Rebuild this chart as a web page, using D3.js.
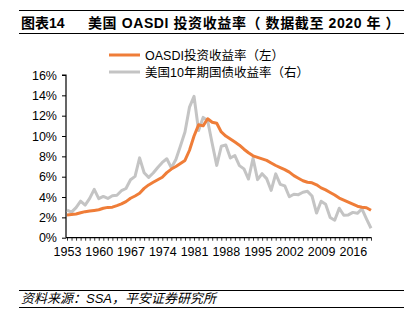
<!DOCTYPE html>
<html>
<head>
<meta charset="utf-8">
<script src="https://cdn.jsdelivr.net/npm/d3@7/dist/d3.min.js"></script>
<style>
  html, body { margin: 0; padding: 0; background: #fff; }
  svg { display: block; }
  text { font-family: "Liberation Sans", Arial, "Noto Sans CJK SC", sans-serif; fill: #000; }
</style>
</head>
<body>
<svg id="chart" width="412" height="326"></svg>
<script>
// Years covered by the series
const years = d3.range(1953, 2021);

// OASDI trust fund effective yield (%), left axis
const oasdiRate = [
  2.24, 2.28, 2.33, 2.45, 2.56, 2.62, 2.68, 2.75, 2.90, 2.98,
  3.00, 3.15, 3.32, 3.55, 3.88, 4.10, 4.37, 4.85, 5.19, 5.45,
  5.70, 5.95, 6.40, 6.75, 7.00, 7.30, 7.60, 8.60, 10.00, 11.10,
  11.00, 11.70, 11.35, 11.25, 10.40, 10.00, 9.70, 9.40, 9.10, 8.70,
  8.35, 8.05, 7.90, 7.75, 7.60, 7.35, 7.10, 6.90, 6.70, 6.45,
  6.10, 5.85, 5.60, 5.45, 5.40, 5.20, 4.90, 4.70, 4.45, 4.20,
  3.90, 3.70, 3.50, 3.30, 3.10, 3.00, 2.95, 2.70
];

// US 10-year Treasury yield, year end (%), right axis
const treasury10y = [
  2.70, 2.51, 2.96, 3.59, 3.21, 3.86, 4.75, 3.84, 4.06, 3.86,
  4.13, 4.18, 4.62, 4.84, 5.70, 6.03, 7.85, 6.39, 5.93, 6.36,
  6.90, 7.40, 7.76, 6.87, 7.69, 9.01, 10.39, 12.84, 13.90, 10.54,
  11.83, 11.50, 9.26, 7.11, 8.99, 9.11, 7.84, 8.08, 7.09, 6.77,
  5.77, 7.81, 5.71, 6.30, 5.81, 4.65, 6.28, 5.24, 5.09, 4.03,
  4.27, 4.23, 4.47, 4.56, 4.10, 2.42, 3.59, 3.29, 1.98, 1.72,
  2.90, 2.21, 2.24, 2.49, 2.40, 2.83, 1.86, 0.93
];

const yTicks = [0, 2, 4, 6, 8, 10, 12, 14, 16];
const xLabels = [1953, 1960, 1967, 1974, 1981, 1988, 1995, 2002, 2009, 2016];

const seriesNames = ["OASDI投资收益率（左）", "美国10年期国债收益率（右）"];
const seriesColors = ["#EF7D38", "#C4C4C4"];

const svg = d3.select("#chart");

// Title block with rules above and below
svg.append("line").attr("x1", 19).attr("x2", 404).attr("y1", 10.5).attr("y2", 10.5)
  .attr("stroke", "#000").attr("stroke-width", 1.2);
svg.append("line").attr("x1", 19).attr("x2", 404).attr("y1", 33.5).attr("y2", 33.5)
  .attr("stroke", "#000").attr("stroke-width", 1.2);
svg.append("text").attr("x", 21).attr("y", 28)
  .attr("font-size", 14).attr("font-weight", "bold")
  .text("图表14");
svg.append("text").attr("x", 88).attr("y", 28)
  .attr("font-size", 14).attr("font-weight", "bold")
  .attr("letter-spacing", 0.6)
  .text("美国 OASDI 投资收益率（ 数据截至 2020 年 ）");

// Scales
const x = d3.scaleLinear().domain([1953, 2020]).range([67, 371]);
const y = d3.scaleLinear().domain([0, 16]).range([237.7, 75]);

// Y axis
const yAxis = d3.axisLeft(y)
  .tickValues(yTicks)
  .tickSize(4)
  .tickFormat(d => d + "%");
const gy = svg.append("g").attr("transform", "translate(66,0)").call(yAxis);
gy.select(".domain").attr("stroke", "#000").attr("stroke-width", 1.2).attr("d", "M-4,75H0V237.7");
gy.selectAll(".tick line").attr("stroke", "#000").attr("stroke-width", 1);
gy.selectAll(".tick text").attr("font-size", 12.5).attr("x", -9).attr("fill", "#000")
  .style("font-family", "'Liberation Sans', Arial, sans-serif");

// X axis: a tick for every year, labels every seven years
const xAxis = d3.axisBottom(x)
  .tickValues(years)
  .tickSize(3)
  .tickFormat(d => xLabels.includes(d) ? String(d) : "");
const gx = svg.append("g").attr("transform", "translate(0,237.7)").call(xAxis);
gx.select(".domain").attr("stroke", "#000").attr("stroke-width", 1.2).attr("d", "M66,0H371.5");
gx.selectAll(".tick line").attr("stroke", "#000").attr("stroke-width", 0.8);
gx.selectAll(".tick text").attr("font-size", 12.5).attr("dy", "0.95em").attr("y", 6)
  .attr("fill", "#000")
  .style("font-family", "'Liberation Sans', Arial, sans-serif");

// Series lines
const line = d3.line().x((d, i) => x(years[i])).y(d => y(d));

svg.append("path").datum(treasury10y)
  .attr("fill", "none").attr("stroke", seriesColors[1])
  .attr("stroke-width", 3).attr("stroke-linejoin", "round")
  .attr("d", line);

svg.append("path").datum(oasdiRate)
  .attr("fill", "none").attr("stroke", seriesColors[0])
  .attr("stroke-width", 3).attr("stroke-linejoin", "round")
  .attr("d", line);

// Legend
const legend = svg.append("g").attr("transform", "translate(109,55)");
seriesNames.forEach((name, i) => {
  const row = legend.append("g").attr("transform", `translate(0,${i * 17})`);
  row.append("line").attr("x1", 0).attr("x2", 31).attr("y1", 0).attr("y2", 0)
    .attr("stroke", seriesColors[i]).attr("stroke-width", 3);
  row.append("text").attr("x", 36).attr("y", 4.5).attr("font-size", 12.5).text(name);
});

// Source note with rules
svg.append("line").attr("x1", 19).attr("x2", 404).attr("y1", 290.5).attr("y2", 290.5)
  .attr("stroke", "#000").attr("stroke-width", 1);
svg.append("line").attr("x1", 19).attr("x2", 404).attr("y1", 307.5).attr("y2", 307.5)
  .attr("stroke", "#000").attr("stroke-width", 1);
svg.append("text").attr("x", 21).attr("y", 303)
  .attr("font-size", 13).attr("font-style", "italic")
  .text("资料来源：SSA，平安证券研究所");
</script>
</body>
</html>
